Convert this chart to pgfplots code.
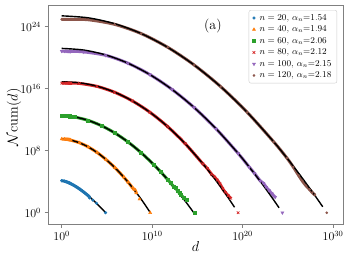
\documentclass[border=0pt]{standalone}
\usepackage{pgfplots}
\pgfplotsset{compat=1.18}
\usetikzlibrary{calc}
\definecolor{tblue}{HTML}{1F77B4}
\definecolor{torange}{HTML}{FF7F0E}
\definecolor{tgreen}{HTML}{2CA02C}
\definecolor{tred}{HTML}{D62728}
\definecolor{tpurple}{HTML}{9467BD}
\definecolor{tbrown}{HTML}{8C564B}
\pgfplotstableread{
x y
0 4.13
0.301 4.066
0.477 4.003
0.602 3.949
0.699 3.904
0.778 3.865
0.845 3.830
0.903 3.798
0.954 3.770
1.0 3.743
1.2 3.622
1.4 3.489
1.6 3.347
1.8 3.196
2.0 3.036
2.2 2.868
2.4 2.692
2.6 2.509
2.8 2.319
3.0 2.121
3.1 1.90
}\blueA
\pgfplotstableread{
x y
3.45 1.62
3.85 1.21
4.85 0
}\blueB
\pgfplotstableread{
x y
0 4.13
0.485 4.0
0.97 3.761
1.455 3.451
1.94 3.085
2.425 2.670
2.91 2.210
3.395 1.711
3.88 1.175
4.1225 0.893
4.365 0.604
4.6075 0.306
4.85 0
}\blueF
\pgfplotstableread{
x y
0 9.5
0.301 9.49
0.477 9.47
0.602 9.45
0.699 9.43
0.778 9.42
0.845 9.40
0.903 9.39
0.954 9.37
1.0 9.36
1.96 9.02
2.94 8.48
3.92 7.76
4.9 6.86
5.88 5.81
6.86 4.59
7.35 3.92
7.84 3.21
7.95 3.05
8.1 2.95
8.25 2.55
}\orangeA
\pgfplotstableread{
x y
8.6 1.75
9.78 0
}\orangeB
\pgfplotstableread{
x y
0 9.5
0.98 9.366
1.96 9.016
2.94 8.476
3.92 7.756
4.9 6.864
5.88 5.807
6.86 4.589
7.84 3.214
8.33 2.466
8.82 1.683
9.31 0.860
9.8 0
}\orangeF
\pgfplotstableread{
x y
0 12.5
0.301 12.5
0.477 12.49
0.602 12.48
0.699 12.47
0.778 12.46
0.845 12.46
0.903 12.45
0.954 12.44
1.0 12.43
1.46 12.34
2.92 11.91
4.38 11.23
5.84 10.31
7.3 9.15
8.76 7.76
10.22 6.15
10.95 5.26
11.68 4.32
12.05 3.83
12.41 3.32
12.6 3.2
12.8 2.85
13.0 2.55
13.2 2.3
13.5 1.9
13.8 1.65
}\greenA
\pgfplotstableread{
x y
14.65 0
}\greenB
\pgfplotstableread{
x y
0 12.5
1.46 12.343
2.92 11.913
4.38 11.231
5.84 10.308
7.3 9.15
8.76 7.764
10.22 6.153
11.68 4.32
12.41 3.321
13.14 2.269
13.87 1.161
14.6 0
}\greenF
\pgfplotstableread{
x y
0 16.72
0.301 16.72
0.477 16.72
0.602 16.71
0.699 16.71
0.778 16.71
0.845 16.70
0.903 16.70
0.954 16.70
1.0 16.70
1.95 16.68
3.9 16.30
5.85 15.54
7.8 14.43
9.75 12.96
11.7 11.12
13.65 8.91
15.6 6.32
16.1 5.7
16.575 4.95
16.9 4.6
17.2 4.2
17.5 3.7
17.8 3.1
18.1 2.6
18.4 2.2
18.7 1.85
}\redA
\pgfplotstableread{
x y
19.5 0
}\redB
\pgfplotstableread{
x y
0 16.9
1.95 16.766
3.9 16.325
5.85 15.551
7.8 14.433
9.75 12.959
11.7 11.119
13.65 8.908
15.6 6.322
16.575 4.887
17.55 3.354
18.525 1.725
19.11 0.70
}\redF
\pgfplotstableread{
x y
0 20.85
0.301 20.85
0.477 20.85
0.602 20.85
0.699 20.84
0.778 20.84
0.845 20.84
0.903 20.84
0.954 20.83
1.0 20.83
2.44 20.75
4.88 20.30
7.32 19.29
9.76 17.81
12.2 15.9
14.64 13.57
17.08 10.81
19.52 7.63
20.74 5.88
21.3 5.1
21.96 4.1
22.3 3.8
22.6 3.3
22.9 2.9
23.2 2.5
23.6 2.0
}\purpleA
\pgfplotstableread{
x y
24.4 0
}\purpleB
\pgfplotstableread{
x y
0 21.2
2.44 20.988
4.88 20.352
7.32 19.292
9.76 17.808
12.2 15.9
14.64 13.568
17.08 10.812
19.52 7.632
20.74 5.883
21.96 4.028
23.18 2.067
24.03 0.63
}\purpleF
\pgfplotstableread{
x y
0 24.95
0.301 24.95
0.477 24.95
0.602 24.95
0.699 24.95
0.778 24.94
0.845 24.94
0.903 24.94
0.954 24.94
1.0 24.94
2.93 24.90
5.86 24.30
8.79 23.11
11.72 21.34
14.65 19.05
17.58 16.26
20.51 12.95
23.44 9.14
24.9 7.05
25.6 5.9
26.2 4.8
26.6 4.1
27.0 3.5
27.4 3.0
27.7 2.6
28.0 2.28
}\brownA
\pgfplotstableread{
x y
29.3 0
}\brownB
\pgfplotstableread{
x y
0 25.4
2.93 25.146
5.86 24.384
8.79 23.114
11.72 21.336
14.65 19.05
17.58 16.256
20.51 12.954
23.44 9.144
24.905 7.049
26.37 4.826
27.835 2.477
28.86 0.76
}\brownF
\begin{document}
\begin{tikzpicture}
\begin{axis}[
  scale only axis, width=295bp, height=219bp,
  xmin=-1.515, xmax=31.1, ymin=-1.46, ymax=26.8,
  xtick={0,10,20,30}, xticklabels={$10^{0}$,$10^{10}$,$10^{20}$,$10^{30}$},
  ytick={0,8,16,24}, yticklabels={$10^{0}$,$10^{8}$,$10^{16}$,$10^{24}$},
  xtick pos=bottom, ytick pos=left, tick align=outside, major tick length=3.5bp,
  minor tick num=0,
  axis line style={gray}, tick style={gray, line width=0.6pt},
  tick label style={font=\fontsize{12}{14}\selectfont},
  xlabel={$d$}, ylabel={$\mathcal{N}\mathrm{cum}(d)$},
  label style={font=\fontsize{14}{17}\selectfont},
  xlabel style={at={(axis description cs:0.5,0)}, anchor=north, yshift=-14.3bp},
  ylabel style={at={(axis description cs:-0.079,0.487)}, anchor=south},
  legend style={at={(rel axis cs:0.98,0.977)}, anchor=north east, draw=gray!40,
    rounded corners=2pt, font=\fontsize{9}{10}\selectfont, row sep=0pt,
    inner xsep=3.5bp, column sep=2bp},
  legend cell align=left,
]
% n=20
\addplot[tblue, line width=3bp, smooth, forget plot] table {\blueA};
\addplot[tblue, only marks, mark=*, mark size=1.4bp] table {\blueA};
\addlegendentry{$n=20$, $\alpha_n$=1.54}
\addplot[tblue, only marks, mark=*, mark size=1.4bp, forget plot] table {\blueB};
% n=40
\addplot[torange, line width=3bp, smooth, forget plot] table {\orangeA};
\addplot[torange, only marks, mark=triangle*, mark size=1.8bp] table {\orangeA};
\addlegendentry{$n=40$, $\alpha_n$=1.94}
\addplot[torange, only marks, mark=triangle*, mark size=1.8bp, forget plot] table {\orangeB};
% n=60
\addplot[tgreen, line width=3bp, smooth, forget plot] table {\greenA};
\addplot[tgreen, only marks, mark=square*, mark size=1.5bp] table {\greenA};
\addlegendentry{$n=60$, $\alpha_n$=2.06}
\addplot[tgreen, only marks, mark=square*, mark size=1.5bp, forget plot] table {\greenB};
% n=80
\addplot[tred, line width=3bp, smooth, forget plot] table {\redA};
\addplot[tred, only marks, mark=x, mark size=1.8bp, mark options={line width=0.7pt}] table {\redA};
\addlegendentry{$n=80$, $\alpha_n$=2.12}
\addplot[tred, only marks, mark=x, mark size=1.8bp, mark options={line width=0.7pt}, forget plot] table {\redB};
% n=100
\addplot[tpurple, line width=3bp, smooth, forget plot] table {\purpleA};
\addplot[tpurple, only marks, mark=triangle*, mark size=1.8bp, mark options={rotate=180}] table {\purpleA};
\addlegendentry{$n=100$, $\alpha_n$=2.15}
\addplot[tpurple, only marks, mark=triangle*, mark size=1.8bp, mark options={rotate=180}, forget plot] table {\purpleB};
% n=120
\addplot[tbrown, line width=3bp, smooth, forget plot] table {\brownA};
\addplot[tbrown, only marks, mark=*, mark size=1.1bp] table {\brownA};
\addlegendentry{$n=120$, $\alpha_n$=2.18}
\addplot[tbrown, only marks, mark=*, mark size=1.1bp, forget plot] table {\brownB};
% fits
\addplot[black, line width=1.4bp, smooth, forget plot] table {\blueF};
\addplot[black, line width=1.4bp, smooth, forget plot] table {\orangeF};
\addplot[black, line width=1.4bp, smooth, forget plot] table {\greenF};
\addplot[black, line width=1.4bp, smooth, forget plot] table {\redF};
\addplot[black, line width=1.4bp, smooth, forget plot] table {\purpleF};
\addplot[black, line width=1.4bp, smooth, forget plot] table {\brownF};
\node[font=\fontsize{14}{16}\selectfont] at (rel axis cs:0.559,0.905) {(a)};
\end{axis}
\useasboundingbox ($(current axis.south west)+(-48bp,-39bp)$) rectangle ($(current axis.north east)+(8bp,5bp)$);
\end{tikzpicture}
\end{document}
